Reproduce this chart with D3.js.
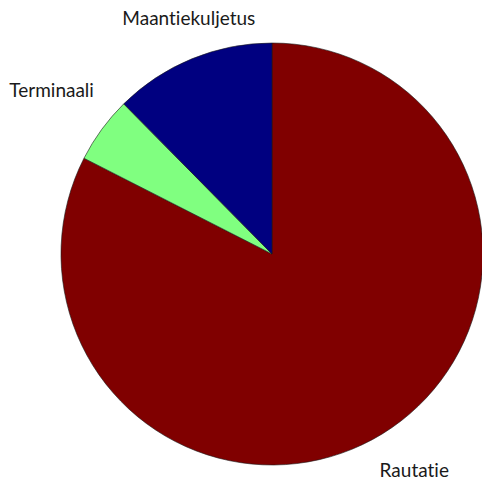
<!DOCTYPE html>
<html>
<head>
<meta charset="utf-8">
<script src="https://cdn.jsdelivr.net/npm/d3@7"></script>
<style>
  html, body { margin: 0; padding: 0; background: #fff; }
  svg { display: block; }
</style>
</head>
<body>
<svg id="chart"></svg>
<script>
var width = 482;
var height = 480;

// data (share of slices, clockwise from 12 o'clock)
var categories = ["Rautatie", "Terminaali", "Maantiekuljetus"];
var values = [82.5, 5.1, 12.4];
var colors = ["#800000", "#80ff80", "#000080"];

var cx = 272;
var cy = 254;
var radius = 211;

// small nudges so the labels sit where the original puts them
var labelNudge = {
    "Rautatie": [10, 0],
    "Terminaali": [-16, -14],
    "Maantiekuljetus": [13, -1]
};

var data = categories.map(function(c, i){
    return { name: c, value: values[i], color: colors[i] };
});

var pie = d3.pie()
            .sort(null)
            .value(d => d.value);

var arc = d3.arc()
            .innerRadius(0)
            .outerRadius(radius);

var labelArc = d3.arc()
            .innerRadius(radius * 1.2)
            .outerRadius(radius * 1.2);

var svg = d3.select("#chart")
    .attr("width", width)
    .attr("height", height);

var g = svg.append("g")
    .attr("transform", "translate(" + cx + "," + cy + ")");

g.selectAll("path")
  .data(pie(data))
  .enter()
  .append("path")
    .attr("d", arc)
    .attr("fill", d => d.data.color)
    .attr("stroke", "#1a1a1a")
    .attr("stroke-opacity", 0.6)
    .attr("stroke-width", 1);

//labels
g.selectAll("text")
  .data(pie(data))
  .enter()
  .append("text")
    .attr("x", d => labelArc.centroid(d)[0] + labelNudge[d.data.name][0])
    .attr("y", d => labelArc.centroid(d)[1] + labelNudge[d.data.name][1])
    .attr("dy", "0.35em")
    .style("text-anchor", "middle")
    .style("font-family", "Lato, 'Open Sans', sans-serif")
    .style("font-size", "19px")
    .style("font-variant-ligatures", "none")
    .style("fill", "#1a1a1a")
    .text(d => d.data.name);
</script>
</body>
</html>
